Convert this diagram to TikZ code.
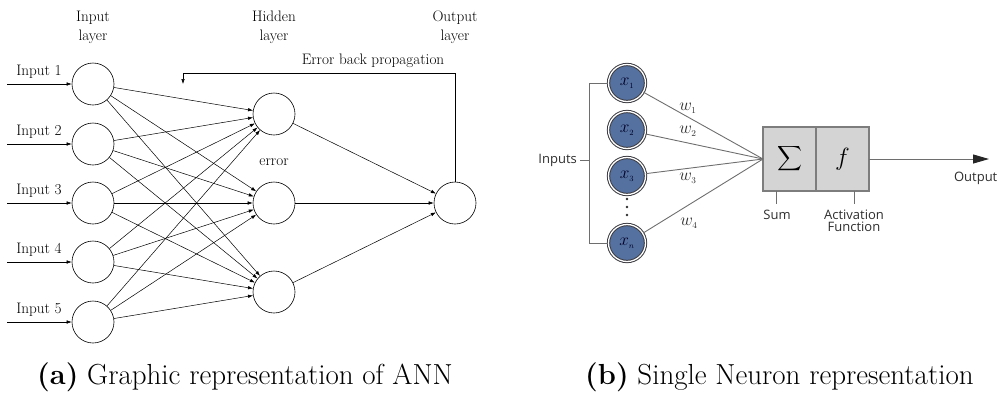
\documentclass[tikz,border=0pt]{standalone}
\usepackage{amsmath}
\usepackage{fontspec}
\newfontfamily\sansf{Open Sans}
\usetikzlibrary{arrows.meta}
\definecolor{nblue}{RGB}{84,113,160}
\definecolor{ring}{RGB}{60,60,66}
\definecolor{boxfill}{RGB}{212,212,212}
\definecolor{boxdraw}{RGB}{125,125,125}
\definecolor{wire}{RGB}{110,110,110}
\definecolor{dtext}{RGB}{45,45,45}
\begin{document}
\begin{tikzpicture}[x=1pt,y=-1pt,
  neuron/.style={circle,draw,line width=0.6pt,minimum size=42pt,inner sep=0pt},
  conn/.style={-{Latex[length=5pt,width=3.5pt]},line width=0.5pt},
  lbl/.style={font=\fontsize{15.2}{19}\selectfont,inner sep=0pt},
  captext/.style={font=\fontsize{29}{30}\selectfont,anchor=west,inner sep=0pt},
  xin/.style={circle,fill=nblue,draw=ring,line width=1pt,double=white,double distance=1.3pt,minimum size=37pt,inner sep=0pt,font=\fontsize{17}{17}\selectfont,text=black!85!blue},
  wline/.style={draw=wire,line width=0.9pt},
  slbl/.style={font=\sansf\fontsize{13}{12}\selectfont,text=dtext,inner sep=0pt,align=center},
  wlbl/.style={font=\fontsize{18}{18}\selectfont,text=dtext,inner sep=0pt},
  boxn/.style={fill=boxfill,draw=boxdraw,line width=1.1pt,minimum width=53pt,minimum height=64pt,inner sep=0pt,outer sep=0pt}
]
\useasboundingbox (0,0) rectangle (998,392);

% ---------- (a) ANN ----------
\node[lbl,align=center] (tl1) at (93,27) {Input\\layer};
\node[lbl,align=center] (tl2) at (274,27) {Hidden\\layer};
\node[lbl,align=center] (tl3) at (455,27) {Output\\layer};

\foreach \i/\y in {1/84,2/144,3/203,4/262,5/322}{
  \node[neuron] (I\i) at (93,\y) {};
  \node[lbl] (L\i) at (39,\y-12) {Input \i};
  \coordinate (s\i) at (7,\y);
  \draw[conn] (s\i) -- (I\i);
}
\node[neuron] (H1) at (274,114) {};
\node[neuron] (H2) at (274,203) {};
\node[neuron] (H3) at (274,292) {};
\node[neuron] (O) at (455,203) {};

\foreach \i in {1,...,5}{
  \foreach \j in {1,2,3}{
    \draw[conn] (I\i) -- (H\j);
  }
}
\foreach \j in {1,2,3}{
  \draw[conn] (H\j) -- (O);
}
\node[lbl] (err) at (274,162) {error};
\node[lbl] (ebp) at (373,61) {Error back propagation};
\coordinate (bp1) at (455,73);
\coordinate (bp2) at (183,73);
\coordinate (bp3) at (183,84);
\draw[conn] (O.north) -- (bp1) -- (bp2) -- (bp3);

% ---------- (b) single neuron ----------
\node[xin] (X1) at (627,83) {$x_{\scriptscriptstyle 1}$};
\node[xin] (X2) at (627,130) {$x_{\scriptscriptstyle 2}$};
\node[xin] (X3) at (627,176) {$x_{\scriptscriptstyle 3}$};
\node[xin] (Xn) at (627,243) {$x_{\scriptscriptstyle n}$};
\foreach \d in {199,207,215}{
  \fill[dtext] (627,\d) circle (1.3pt);
}

\coordinate (br1) at (589,83);
\coordinate (br2) at (589,243);
\coordinate (br3) at (589,160);
\draw[wline,line width=1pt] (X1.west) -- (br1) -- (br2) -- (Xn.west);
\node[slbl,anchor=east] (inp) at (577,160) {Inputs};
\draw[wline,line width=1pt] ([xshift=3pt]inp.east) -- (br3);

\node[boxn] (S) at (789.5,159) {\fontsize{19}{19}\selectfont$\displaystyle\sum$};
\node[boxn] (F) at (842.5,159) {\fontsize{24}{24}\selectfont$f$};

\foreach \n in {X1,X2,X3,Xn}{
  \draw[wline] (\n) -- (S.west);
}
\node[wlbl] (w1) at (688,108) {$w_{\scriptscriptstyle 1}$};
\node[wlbl] (w2) at (688,131) {$w_{\scriptscriptstyle 2}$};
\node[wlbl] (w3) at (688,178) {$w_{\scriptscriptstyle 3}$};
\node[wlbl] (w4) at (689,223) {$w_{\scriptscriptstyle 4}$};

\coordinate (out) at (989,159);
\draw[draw=wire,line width=1pt,-{Triangle[length=16pt,width=9pt,color=black!85,fill=black!85]}] (F.east) -- (out);
\node[slbl,anchor=east] (outl) at (997.5,178) {Output};

\coordinate (st) at (776,191);
\coordinate (at) at (854,191);
\draw[wline,line width=1pt] (st) -- ++(0,13);
\draw[wline,line width=1pt] (at) -- ++(0,13);
\node[slbl] (suml) at (777,215) {Sum};
\node[slbl] (actl) at (854,221) {Activation\\Function};

% ---------- captions ----------
\node[captext] (ca) at (37,377) {\textbf{(a)} Graphic representation of ANN};
\node[captext] (cb) at (585,377) {\textbf{(b)} Single Neuron representation};
\end{tikzpicture}
\end{document}
